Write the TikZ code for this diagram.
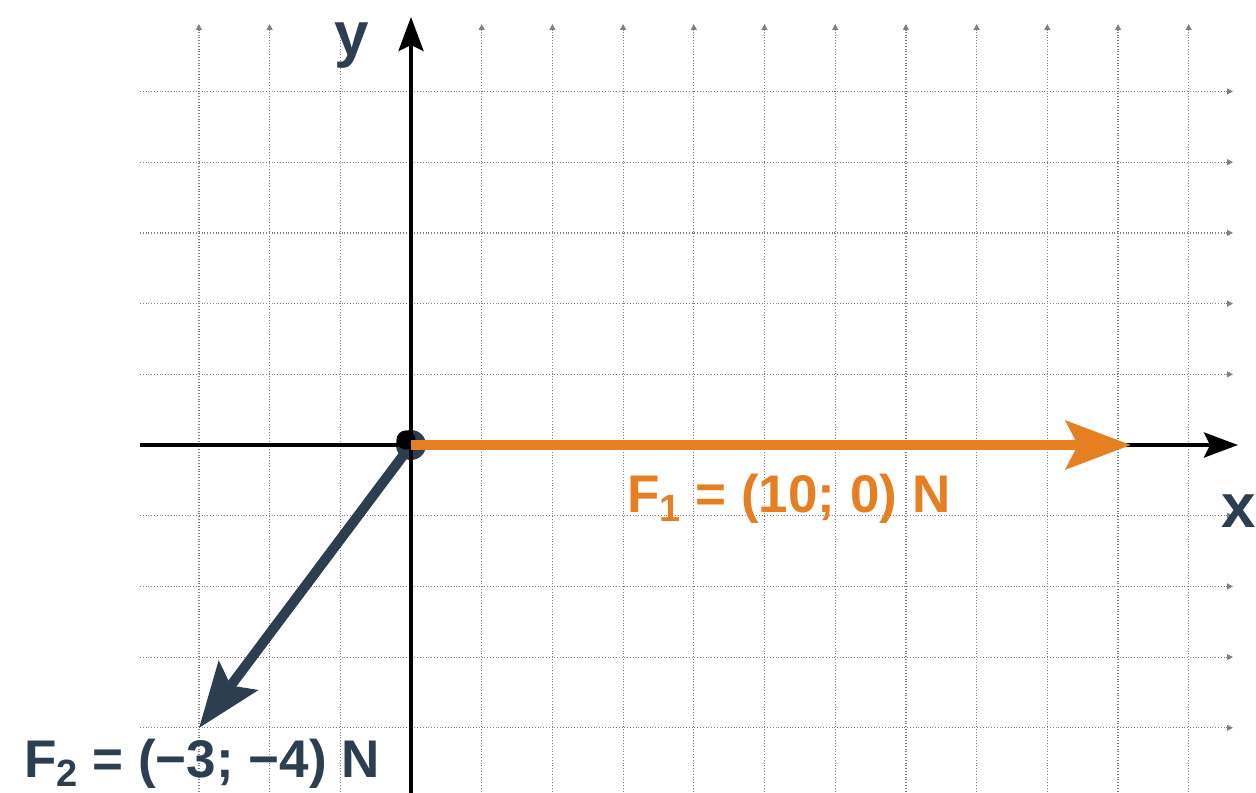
\documentclass[tikz,border=0pt]{standalone}
\usepackage{fontspec}
\setmainfont{Liberation Sans}
\usetikzlibrary{arrows.meta}
\definecolor{forange}{HTML}{E67E22}
\definecolor{fslate}{HTML}{2C3E50}
\begin{document}
\begin{tikzpicture}[x=0.5pt,y=-0.5pt,
  gridline/.style={black!50, line width=0.6pt, dash pattern=on 0.5pt off 0.9pt,
    -{Triangle[length=3pt,width=3pt]}},
  axisline/.style={line width=2pt, black, -{Stealth[length=17pt,width=12.5pt,inset=3pt]}},
  force/.style={line width=5pt, -{Stealth[length=32.5pt,width=24pt,inset=6pt]}},
  flabel/.style={font=\bfseries\fontsize{26.5}{30}\selectfont, inner sep=0pt, anchor=base west},
  axlabel/.style={font=\bfseries\fontsize{31}{34}\selectfont, inner sep=0pt, anchor=base west, text=fslate}]
\useasboundingbox (0,0) rectangle (1256,792);
% grid
\foreach \k in {-3,...,11} {
  \draw[gridline] ({411+70.7*\k},800) -- ({411+70.7*\k},24);
}
\foreach \j in {-5,...,4} {
  \draw[gridline] (140,{445+70.7*\j}) -- (1233,{445+70.7*\j});
}
% key points
\coordinate (O) at (411,445);
\coordinate (xstart) at (140,445);
\coordinate (xend) at (1238,445);
\coordinate (ystart) at (411,800);
\coordinate (yend) at (411,17);
\coordinate (F1tip) at (1131,445);
\coordinate (F2tip) at (199,728);
% origin ring and F2
\fill[fslate] (O) circle[radius=7.5pt];
\draw[force, fslate] (O) -- (F2tip);
% axes
\draw[axisline] (xstart) -- (xend);
\draw[axisline] (ystart) -- (yend);
\fill[black] (406,440) circle[radius=4.8pt];
% F1
\draw[force, forange] (O) -- (F1tip);
% labels
\node[axlabel] (ylab) at (334,56) {y};
\node[axlabel] (xlab) at (1221,527) {x};
\node[flabel, text=forange] (F1lab) at (627,512)
  {F\raisebox{-0.17em}{\fontsize{19}{19}\selectfont 1} = (10; 0) N};
\node[flabel, text=fslate] (F2lab) at (24,777)
  {F\raisebox{-0.17em}{\fontsize{19}{19}\selectfont 2} = (−3; −4) N};
\end{tikzpicture}
\end{document}
